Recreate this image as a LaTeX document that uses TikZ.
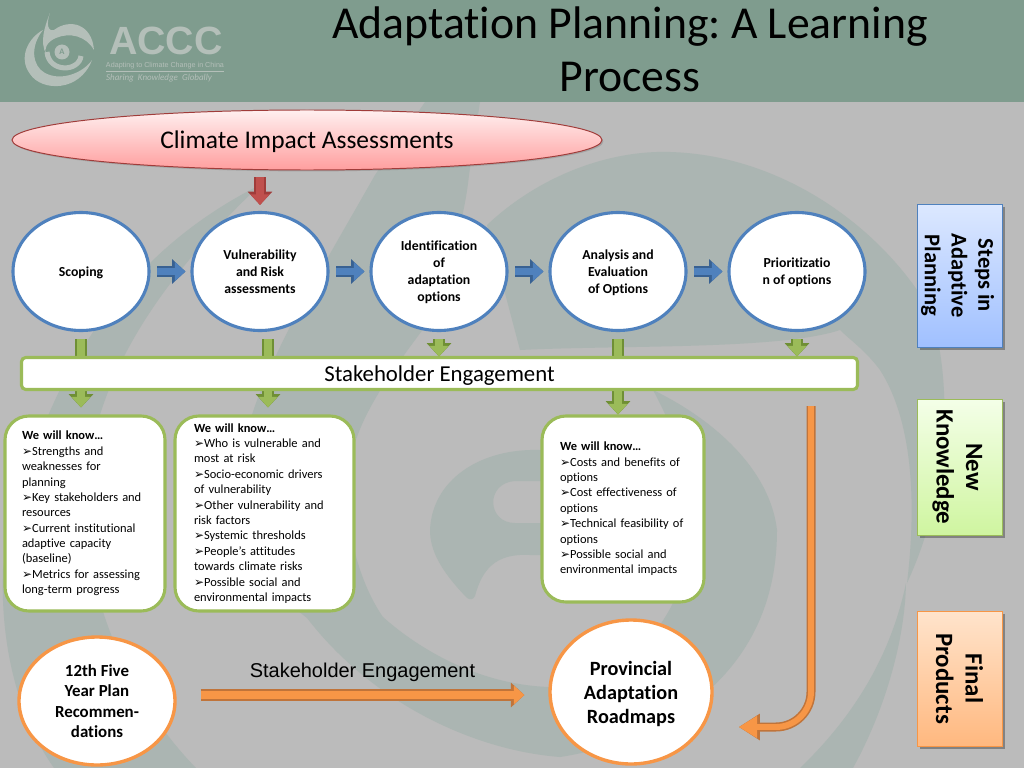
\documentclass[tikz,border=0pt]{standalone}
\usepackage{fontspec}
\setmainfont{Carlito}[Ligatures=NoCommon]
\newfontfamily\arialfont{Liberation Sans}
\newfontfamily\symfont{DejaVu Sans}
\usepackage{tikz}
\usetikzlibrary{shapes.geometric,arrows.meta,shadows,positioning}
\definecolor{bggrey}{HTML}{BBBBBB}
\definecolor{swirl}{HTML}{ABB5B2}
\definecolor{headgreen}{HTML}{7F9C8E}
\definecolor{logogrey}{HTML}{B4BFB9}
\definecolor{stepblue}{HTML}{4F81BD}
\definecolor{darkblue}{HTML}{386192}
\definecolor{leafgreen}{HTML}{9BBB59}
\definecolor{darkleaf}{HTML}{6F8F35}
\definecolor{sunorange}{HTML}{F79646}
\definecolor{darkorange}{HTML}{C0743A}
\definecolor{firered}{HTML}{C0504D}
\definecolor{darkred}{HTML}{A03C3A}
\definecolor{bluetop}{HTML}{DCE8FF}
\definecolor{bluebot}{HTML}{A0C0FF}
\definecolor{greentop}{HTML}{F4FFE8}
\definecolor{greenbot}{HTML}{CFF5A0}
\definecolor{orangetop}{HTML}{FFE4CC}
\definecolor{orangebot}{HTML}{FFB87F}
\newlength{\pxu}\setlength{\pxu}{0.025cm}
\newcommand{\bul}{\makebox[7.2pt][l]{\symfont\fontsize{8.5}{8.5}\selectfont ➢}}
\tikzset{
	stepcircle/.style={ellipse,draw=stepblue,line width=2.2pt,fill=white,minimum width=136\pxu,minimum height=118\pxu,inner sep=0pt,align=center,text depth=0pt,font=\bfseries\fontsize{9.8}{12.1}\selectfont},
	finalcircle/.style={ellipse,draw=sunorange,line width=2.4pt,fill=white,inner sep=0pt,align=center,text depth=0pt},
	knowbox/.style={draw=leafgreen,line width=2.2pt,fill=white,rounded corners=17pt,inner xsep=0pt,inner ysep=0pt,align=left,font=\fontsize{8.85}{10.95}\selectfont},
	sidebox/.style={rotate=-90,minimum width=135\pxu,minimum height=85\pxu,inner sep=0pt,align=center,text depth=0pt,draw=#1},
	blockarrow/.style n args={2}{-{Triangle[length=7.5pt,width=13pt]},draw=#1,line width=5.2pt,
		preaction={draw=#2,line width=8pt,-{Triangle[length=9.5pt,width=17pt]}},shorten >=0.6pt},
	greenarrow/.style={blockarrow={leafgreen}{darkleaf}},
	bluearrow/.style={blockarrow={stepblue}{darkblue}},
	redarrow/.style={blockarrow={firered}{darkred}},
	orangearrow/.style={blockarrow={sunorange}{darkorange}},
	orangecurve/.style={-{Triangle[length=13pt,width=15pt]},draw=sunorange,line width=4.2pt,
		preaction={draw=darkorange,line width=6.4pt,-{Triangle[length=15pt,width=18pt]}},shorten >=0.6pt},
}
\begin{document}
\frenchspacing
\begin{tikzpicture}[x=0.025cm,y=-0.025cm]
	% page and header
	\fill[bggrey] (0,0) rectangle (1024,768);
	\useasboundingbox (0,0) rectangle (1024,768);
	% watermark swirl
	\fill[swirl] (260,185) .. controls (130,250) and (40,370) .. (3,569) .. controls (0,650) and (20,720) .. (54,768) -- (196,768) .. controls (130,700) and (85,600) .. (85,500) .. controls (90,380) and (160,280) .. (260,185) -- cycle;
	\fill[swirl] (425,102) -- (375,175) .. controls (310,290) and (240,400) .. (240,480) .. controls (245,550) and (270,590) .. (307,618) .. controls (370,700) and (470,750) .. (560,757) .. controls (640,745) and (777,690) .. (777,530) .. controls (770,470) and (715,420) .. (653,390) .. controls (680,440) and (695,490) .. (690,540) .. controls (680,640) and (610,680) .. (550,687) .. controls (480,685) and (420,650) .. (383,617) .. controls (350,570) and (335,480) .. (357,437) .. controls (370,400) and (400,360) .. (430,320) .. controls (450,270) and (465,215) .. (469,175) -- (480,102) -- cycle;
	\fill[swirl] (487,225) .. controls (540,175) and (610,150) .. (670,152) .. controls (780,155) and (880,225) .. (930,310) .. controls (950,370) and (955,480) .. (907,583) .. controls (917,500) and (912,420) .. (880,370) .. controls (865,350) and (850,340) .. (840,330) .. controls (780,350) and (620,345) .. (520,350) -- cycle;
	\fill[swirl] (906,583) .. controls (905,640) and (885,710) .. (853,768) -- (800,768) .. controls (850,720) and (890,660) .. (906,583) -- cycle;
	\fill[swirl,even odd rule] (467,598) .. controls (440,570) and (430,550) .. (430,530) .. controls (432,480) and (480,448) .. (540,450) -- (600,450) -- (600,555) -- (530,555) .. controls (495,553) and (482,570) .. (475,596) .. controls (473,600) and (470,600) .. (467,598) -- cycle (600,481) -- (515,481) .. controls (485,483) and (487,523) .. (515,523) -- (600,523) -- cycle;
	\fill[headgreen] (0,0) rectangle (1024,102);
	% logo
	\fill[logogrey] (43,30) .. controls (28,38) and (18,58) .. (30,74) .. controls (42,92) and (80,92) .. (92,60) .. controls (84,72) and (62,82) .. (45,73) .. controls (32,66) and (30,46) .. (43,30) -- cycle;
	\fill[logogrey] (50,13) .. controls (46,24) and (48,32) .. (54,30) .. controls (70,18) and (92,24) .. (94,50) .. controls (86,36) and (70,32) .. (56,38) .. controls (46,42) and (44,50) .. (46,54) .. controls (40,42) and (44,28) .. (50,13) -- cycle;
	\draw[logogrey,line width=3.6pt] (47,52) .. controls (49,73) and (79,72) .. (81,56);
	\node[circle,fill=logogrey,minimum size=15\pxu,inner sep=0pt,text=headgreen,font=\bfseries\fontsize{6}{6}\selectfont] (logoa) at (62,52) {A};
	\node[text=logogrey,font=\arialfont\bfseries\fontsize{28}{28}\selectfont,inner sep=0pt,text height=20pt,text depth=0pt] (accc) at (166,40.5) {ACCC};
	\node[text=logogrey,font=\arialfont\fontsize{5.1}{6}\selectfont,inner sep=0pt] (adapting) at (165,65.5) {Adapting to Climate Change in China};
	\draw[logogrey,line width=0.3pt] (106,71) -- (224,71);
	\node[text=logogrey,font=\itshape\fontsize{6.4}{7}\selectfont,inner sep=0pt] (sharing) at (159,78) {Sharing\ \ Knowledge\ \ Globally};
	% title
	\node[align=center,inner sep=0pt,font=\fontsize{32.5}{37.5}\selectfont] (title) at (630,49) {Adaptation Planning: A Learning\\Process};
	% top ellipse
	\node[ellipse,draw=darkred,line width=0.7pt,top color=red!6,bottom color=red!38!white,drop shadow={shadow xshift=1pt,shadow yshift=-1pt,opacity=0.4},minimum width=590\pxu,minimum height=60\pxu,inner sep=0pt,text depth=0pt,font=\fontsize{18.1}{20}\selectfont] (impact) at (307,140) {Climate Impact Assessments};
	% steps
	\node[stepcircle] (scoping) at (81,271.5) {Scoping};
	\node[stepcircle] (vuln) at (260,271.5) {Vulnerability\\and Risk\\assessments};
	\node[stepcircle] (ident) at (439,271.5) {Identification\\of\\adaptation\\options};
	\node[stepcircle] (analysis) at (618,271.5) {Analysis and\\Evaluation\\of Options};
	\node[stepcircle] (prior) at (797,271.5) {Prioritizatio\\n of options};
	\coordinate (redtop) at (vuln.north |- 0,177);
	\draw[redarrow,shorten >=6\pxu] (redtop) -- (vuln.north);
	\foreach \from/\to in {scoping/vuln,vuln/ident,ident/analysis,analysis/prior}
		\draw[bluearrow,shorten <=6.5\pxu,shorten >=5\pxu] (\from.east) -- (\to.west);
	% knowledge boxes
	\node[knowbox,minimum width=160\pxu,minimum height=195\pxu,text width=126\pxu] (knowa) at (85,513.5) {\textbf{We will know…}\\\bul Strengths and\\weaknesses for\\planning\\\bul Key stakeholders and\\resources\\\bul Current institutional\\adaptive capacity\\(baseline)\\\bul Metrics for assessing\\long-term progress};
	\node[knowbox,minimum width=179\pxu,minimum height=195\pxu,text width=141\pxu] (knowb) at (264.5,513.5) {\textbf{We will know…}\\\bul Who is vulnerable and\\most at risk\\\bul Socio-economic drivers\\of vulnerability\\\bul Other vulnerability and\\risk factors\\\bul Systemic thresholds\\\bul People’s attitudes\\towards climate risks\\\bul Possible social and\\environmental impacts};
	\node[knowbox,minimum width=162\pxu,minimum height=186\pxu,text width=126\pxu] (knowc) at (623,509) {\textbf{We will know…}\\\bul Costs and benefits of\\options\\\bul Cost effectiveness of\\options\\\bul Technical feasibility of\\options\\\bul Possible social and\\environmental impacts};
	% green arrows, behind the bar
	\draw[greenarrow,shorten <=7\pxu,shorten >=7\pxu] (scoping.south) -- (scoping.south |- knowa.north);
	\draw[greenarrow,shorten <=7\pxu,shorten >=7\pxu] ([xshift=8\pxu]vuln.south) -- ([xshift=8\pxu]vuln.south |- knowb.north);
	\draw[greenarrow,shorten <=7\pxu,shorten >=0\pxu] (analysis.south) -- (analysis.south |- knowc.north);
	\node[draw=leafgreen,line width=2.2pt,fill=white,rounded corners=3pt,minimum width=836\pxu,minimum height=32\pxu,inner sep=0pt,text depth=0pt,font=\fontsize{16.2}{18}\selectfont] (stake) at (439.5,373.5) {Stakeholder Engagement};
	\draw[greenarrow,shorten <=7\pxu,shorten >=58\pxu] (ident.south) -- (ident.south |- knowc.north);
	\draw[greenarrow,shorten <=7\pxu,shorten >=58\pxu] (prior.south) -- (prior.south |- knowc.north);
	% bottom row
	\node[finalcircle,minimum width=156\pxu,minimum height=128\pxu,font=\bfseries\fontsize{12}{14.6}\selectfont] (plan) at (97,701) {12th Five\\Year Plan\\Recommen-\\dations};
	\node[finalcircle,minimum width=162\pxu,minimum height=144\pxu,font=\bfseries\fontsize{14.4}{17}\selectfont] (roadmap) at (631,692) {Provincial\\Adaptation\\Roadmaps};
	\coordinate (planout) at (plan.east |- 0,695);
	\draw[orangearrow,shorten <=24\pxu,shorten >=24\pxu] (planout) -- (roadmap.west |- planout) node[midway,above=5\pxu,text=black,font=\arialfont\fontsize{14.2}{16}\selectfont] (stakelabel) {Stakeholder Engagement};
	\coordinate (orangestart) at (811,406);
	\coordinate (orangeend) at (738,727);
	\draw[orangecurve,rounded corners=25pt] (orangestart) |- (orangeend);
	% legend
	\foreach \ytop/\ybot in {207/350,402/538,614/749}
		\fill[black,opacity=0.3] (920,\ytop) rectangle (1005,\ybot);
	\node[sidebox=stepblue,top color=bluetop,bottom color=bluebot,minimum width=143\pxu,font=\bfseries\fontsize{16}{19}\selectfont] (steps) at (959.5,275.5) {Steps in\\Adaptive\\Planning};
	\node[sidebox=leafgreen,top color=greentop,bottom color=greenbot,minimum width=136\pxu,font=\bfseries\fontsize{17.7}{21}\selectfont] (knowledge) at (959.5,467) {New\\Knowledge};
	\node[sidebox=sunorange,top color=orangetop,bottom color=orangebot,minimum width=135\pxu,font=\bfseries\fontsize{17.7}{21}\selectfont] (products) at (959.5,678.5) {Final\\Products};
\end{tikzpicture}
\end{document}
